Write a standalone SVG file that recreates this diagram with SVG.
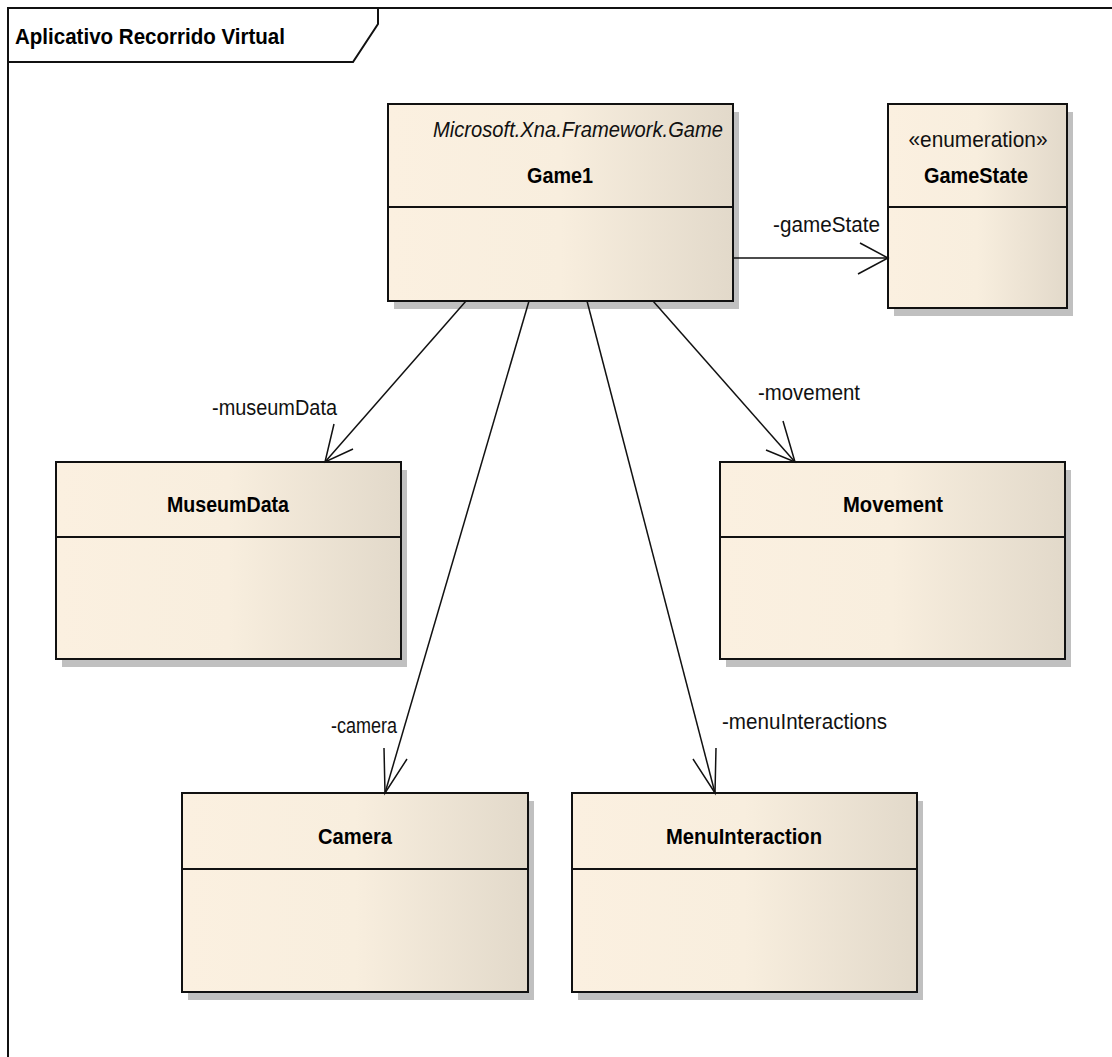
<svg xmlns="http://www.w3.org/2000/svg" width="1112" height="1057" viewBox="0 0 1112 1057">
  <defs>
    <linearGradient id="classFill" x1="0" y1="0" x2="1" y2="0">
      <stop offset="0" stop-color="#FBF0E0"/>
      <stop offset="0.5" stop-color="#F8EEDE"/>
      <stop offset="1" stop-color="#E2D9CA"/>
    </linearGradient>
  </defs>
  <style>
    .frame { fill: none; stroke: #111; stroke-width: 2; }
    .shadow { fill: #C0C0C0; }
    .box { fill: url(#classFill); stroke: #111; stroke-width: 2; }
    .div { stroke: #111; stroke-width: 2; }
    text { font-family: "Liberation Sans", Arial, sans-serif; font-size: 22px; }
    .title { font-weight: bold; fill: #000; }
    .name { font-weight: bold; fill: #000; text-anchor: middle; }
    .stereo { fill: #111; text-anchor: middle; }
    .ns { font-style: italic; fill: #111; }
    .edge { fill: none; stroke: #111; stroke-width: 1.5; }
    .head { fill: none; stroke: #111; stroke-width: 1.5; stroke-linejoin: miter; }
    .role { fill: #111; }
  </style>

  <rect width="1112" height="1057" fill="#fff"/>

  <!-- package frame with name tab -->
  <g id="frame">
    <rect class="frame" x="8" y="8" width="1130" height="1080"/>
    <path class="frame" d="M8,62 H353 L378,24 V8"/>
    <text class="title" x="15" y="44" textLength="270" lengthAdjust="spacingAndGlyphs">Aplicativo Recorrido Virtual</text>
  </g>

  <g id="node-game1">
    <rect class="shadow" x="394" y="112" width="345" height="197"/>
    <rect class="box" x="388" y="104" width="345" height="197"/>
    <line class="div" x1="388" y1="207" x2="733" y2="207"/>
    <text class="ns" x="433" y="137" textLength="290" lengthAdjust="spacingAndGlyphs">Microsoft.Xna.Framework.Game</text>
    <text class="name" x="560" y="183" textLength="66" lengthAdjust="spacingAndGlyphs">Game1</text>
  </g>

  <g id="node-gamestate">
    <rect class="shadow" x="894" y="112" width="179" height="204"/>
    <rect class="box" x="888" y="104" width="179" height="204"/>
    <line class="div" x1="888" y1="207" x2="1067" y2="207"/>
    <text class="stereo" x="978" y="147" textLength="139" lengthAdjust="spacingAndGlyphs">«enumeration»</text>
    <text class="name" x="976" y="183" textLength="104" lengthAdjust="spacingAndGlyphs">GameState</text>
  </g>

  <g id="node-museumdata">
    <rect class="shadow" x="62" y="470" width="345" height="197"/>
    <rect class="box" x="56" y="462" width="345" height="197"/>
    <line class="div" x1="56" y1="537" x2="401" y2="537"/>
    <text class="name" x="228" y="512" textLength="122" lengthAdjust="spacingAndGlyphs">MuseumData</text>
  </g>

  <g id="node-movement">
    <rect class="shadow" x="726" y="470" width="345" height="197"/>
    <rect class="box" x="720" y="462" width="345" height="197"/>
    <line class="div" x1="720" y1="537" x2="1065" y2="537"/>
    <text class="name" x="893" y="512" textLength="100" lengthAdjust="spacingAndGlyphs">Movement</text>
  </g>

  <g id="node-camera">
    <rect class="shadow" x="188" y="801" width="346" height="199"/>
    <rect class="box" x="182" y="793" width="346" height="199"/>
    <line class="div" x1="182" y1="869" x2="528" y2="869"/>
    <text class="name" x="355" y="844" textLength="74" lengthAdjust="spacingAndGlyphs">Camera</text>
  </g>

  <g id="node-menuinteraction">
    <rect class="shadow" x="578" y="801" width="345" height="199"/>
    <rect class="box" x="572" y="793" width="345" height="199"/>
    <line class="div" x1="572" y1="869" x2="917" y2="869"/>
    <text class="name" x="744" y="844" textLength="156" lengthAdjust="spacingAndGlyphs">MenuInteraction</text>
  </g>

  <!-- associations -->
  <g id="connectors">
    <line class="edge" x1="733" y1="258" x2="888" y2="258"/>
    <polyline class="head" points="860,243 888,258 858,274"/>
    <text class="role" x="773" y="232" textLength="107" lengthAdjust="spacingAndGlyphs">-gameState</text>

    <line class="edge" x1="466" y1="301" x2="325" y2="462"/>
    <polyline class="head" points="334,424 325,462 353,449"/>
    <text class="role" x="212" y="415" textLength="125" lengthAdjust="spacingAndGlyphs">-museumData</text>

    <line class="edge" x1="653" y1="301" x2="795" y2="462"/>
    <polyline class="head" points="783,421 795,462 766,450"/>
    <text class="role" x="758" y="400" textLength="102" lengthAdjust="spacingAndGlyphs">-movement</text>

    <line class="edge" x1="529" y1="301" x2="385" y2="793"/>
    <polyline class="head" points="384,748 385,793 407,759"/>
    <text class="role" x="331" y="733" textLength="66" lengthAdjust="spacingAndGlyphs">-camera</text>

    <line class="edge" x1="587" y1="301" x2="715" y2="793"/>
    <polyline class="head" points="716,748 715,793 693,759"/>
    <text class="role" x="722" y="729" textLength="165" lengthAdjust="spacingAndGlyphs">-menuInteractions</text>
  </g>
</svg>
